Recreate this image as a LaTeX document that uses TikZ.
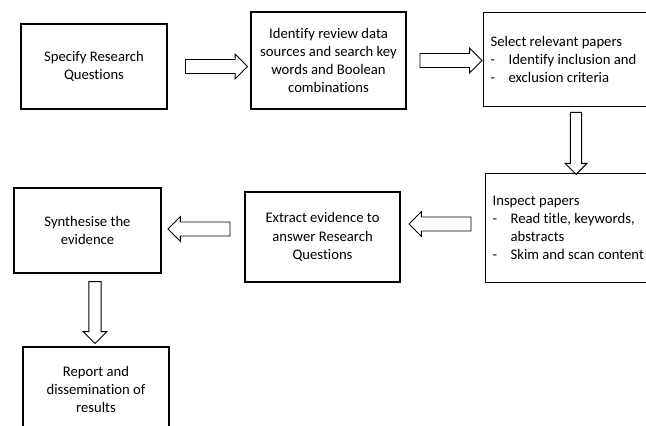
\documentclass[tikz,border=0pt]{standalone}
\usepackage{fontspec}
\setmainfont[Ligatures=NoCommon]{Carlito}
\usetikzlibrary{shapes.arrows}
\usetikzlibrary{positioning}

\tikzset{
  stage/.style={draw, line width=0.9pt, rectangle, align=center, inner sep=2pt,
    font=\fontsize{11}{13.6}\selectfont},
  liststage/.style={stage, align=flush left, anchor=north west, text width=170pt, inner xsep=5.25pt},
  fatarrow/.style={draw, line width=0.7pt, single arrow, single arrow head extend=4pt,
    inner xsep=0pt, inner ysep=4.9pt, minimum width=18pt, minimum height=46.5pt},
  downarrow/.style={fatarrow, shape border rotate=270, inner ysep=0pt},
}
\newcommand{\dashitem}{\makebox[13.5pt][l]{-}}

\begin{document}
\begin{tikzpicture}[x=0.75pt, y=-0.75pt]
\useasboundingbox (0,0) rectangle (646,425);
\clip (0,0) rectangle (646,425);

%boxes
\node[stage, minimum width=109.5pt, minimum height=63.75pt] (specify) at (94,66.5) {Specify Research\\Questions};
\node[stage, minimum width=116.25pt, minimum height=72.75pt] (identify) at (328.5,60.5) {Identify review data\\sources and search key\\words and Boolean\\combinations};
\node[liststage, minimum height=70.5pt] (select) at (483,12) {Select relevant papers\\\dashitem Identify inclusion and\\\dashitem exclusion criteria};
\node[liststage, minimum height=81.75pt] (inspect) at (485,173) {Inspect papers\\\dashitem Read title, keywords,\\\hspace*{13.5pt}abstracts\\\dashitem Skim and scan content};
\node[stage, minimum width=116.25pt, minimum height=67.5pt] (extract) at (322.5,237) {Extract evidence to\\answer Research\\Questions};
\node[stage, minimum width=110.25pt, minimum height=63.75pt] (synth) at (87.5,230.5) {Synthesise the\\evidence};
\node[stage, minimum width=109.5pt, minimum height=63.75pt] (report) at (96,389.5) {Report and\\dissemination of\\results};

%arrows
\node[fatarrow] (a12) at (213,66.5) {};
\node[fatarrow] (a23) at (447.5,60.5) {};
\node[downarrow, inner xsep=3.9pt, minimum width=16.5pt] (a34) at (576,140.5) {};
\node[fatarrow, shape border rotate=180] (a45) at (443.5,224) {};
\node[fatarrow, shape border rotate=180] (a56) at (202.5,229) {};
\node[downarrow, inner xsep=3.75pt] (a67) at (95,309.5) {};

\end{tikzpicture}
\end{document}
